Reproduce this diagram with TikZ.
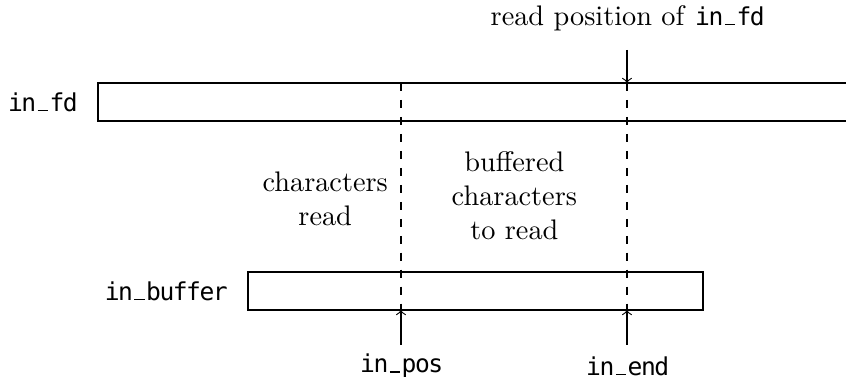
\documentclass[tikz,border=0pt]{standalone}
\usepackage{fontspec}
\setmonofont[Scale=0.87,LetterSpace=-6]{DejaVu Sans Mono}
\usetikzlibrary{positioning}
% short underscore sitting on the baseline
\newcommand{\usc}{\makebox[0.54em]{\rule{0.42em}{0.45pt}}}
\begin{document}
\begin{tikzpicture}[inner sep=2pt,outer sep=0pt]
	\useasboundingbox (0,0) rectangle (10.51,4.683) ;
	% the file, running off to the right
	\draw (10.51,3.652) -| (1.217,3.180) -- (10.51,3.180) ;
	\coordinate (fd west) at (1.217,3.416) ;
	\node[left=0.2cm of fd west] (fdname) {\texttt{in\usc fd}} ;
	% the buffer
	\node[draw,minimum width=5.652cm,minimum height=0.472cm] (buffer) at (5.907,1.068) {} ;
	\node[left=0.2cm of buffer] (bufname) {\texttt{in\usc buffer}} ;
	% positions
	\coordinate (pos top) at (4.981,3.652) ;
	\coordinate (end top) at (7.789,3.652) ;
	\coordinate (pos bot) at (4.981,0.832) ;
	\coordinate (end bot) at (7.789,0.832) ;
	\draw[dashed] (pos top) -- (pos bot) ;
	\draw[dashed] (end top) -- (end bot) ;
	\node (readpos) at (7.789,4.46) {read position of \texttt{in\usc fd}} ;
	\coordinate (readpos tail) at (7.789,4.062) ;
	\draw[->] (readpos tail) -- (end top) ;
	\node (inpos) at (4.981,0.137) {\texttt{in\usc pos}} ;
	\node (inend) at (7.789,0.137) {\texttt{in\usc end}} ;
	\coordinate (inpos tail) at (4.981,0.398) ;
	\coordinate (inend tail) at (7.789,0.398) ;
	\draw[->] (inpos tail) -- (pos bot) ;
	\draw[->] (inend tail) -- (end bot) ;
	% the two regions
	\node[align=center] (done) at (4.04,2.211) {characters\\read} ;
	\node[align=center] (todo) at (6.39,2.248) {buffered\\characters\\to read} ;
\end{tikzpicture}
\end{document}
